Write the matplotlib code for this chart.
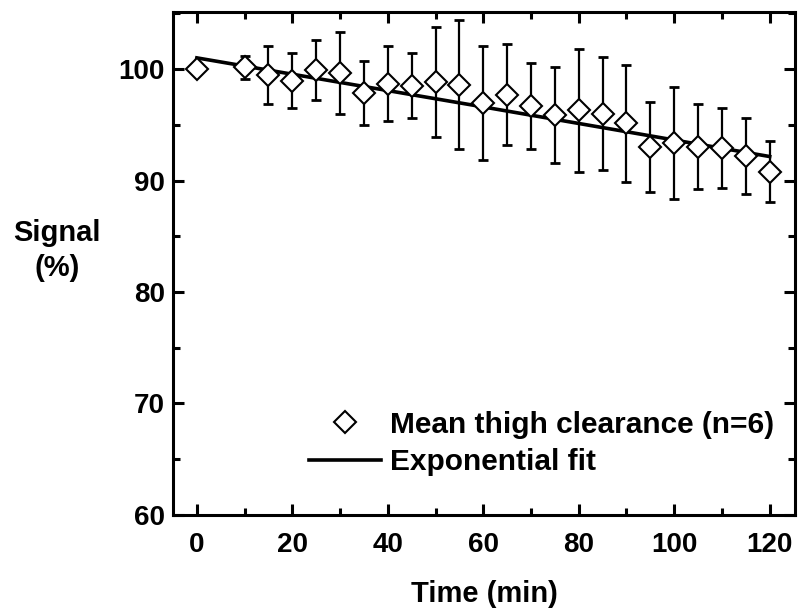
import matplotlib
matplotlib.use("Agg")
import matplotlib.pyplot as plt
from matplotlib.lines import Line2D
from matplotlib.ticker import MultipleLocator

plt.rcParams['font.family'] = ['Liberation Sans', 'DejaVu Sans']
plt.rcParams['font.weight'] = 'bold'

time_min = [0, 10, 15, 20, 25, 30, 35, 40, 45, 50, 55, 60, 65, 70, 75, 80, 85, 90, 95, 100, 105, 110, 115, 120]
signal_mean = [100.0, 100.15, 99.5, 98.95, 99.9, 99.65, 97.85, 98.7, 98.5, 98.85, 98.6, 96.95,
               97.7, 96.65, 95.9, 96.3, 96.0, 95.15, 93.0, 93.35, 93.05, 92.9, 92.2, 90.8]
signal_err = [0.0, 1.05, 2.6, 2.45, 2.7, 3.65, 2.85, 3.4, 2.9, 4.95, 5.8, 5.1,
              4.5, 3.85, 4.3, 5.5, 5.1, 5.25, 4.0, 5.05, 3.85, 3.6, 3.4, 2.7]
fit_time = [0, 60, 120]
fit_values = [101.0, 96.6, 92.15]

fig = plt.figure(figsize=(7.99, 6.08), dpi=100)
ax = fig.add_axes([0.2165, 0.153, 0.7785, 0.827])

ax.errorbar(time_min, signal_mean, yerr=signal_err, fmt='none', ecolor='black',
            elinewidth=1.6, capsize=3.6, capthick=2, zorder=2)
ax.plot(fit_time, fit_values, color='black', lw=2.6, zorder=3)
ax.plot(time_min, signal_mean, linestyle='none', marker='D', markersize=11.5,
        markerfacecolor='white', markeredgecolor='black', markeredgewidth=1.5, zorder=4)

ax.set_xlim(-5, 125.3)
ax.set_ylim(60, 105.1)
ax.xaxis.set_major_locator(MultipleLocator(20))
ax.xaxis.set_minor_locator(MultipleLocator(10))
ax.yaxis.set_major_locator(MultipleLocator(10))
ax.yaxis.set_minor_locator(MultipleLocator(5))
ax.tick_params(which='both', direction='in', top=True, right=True, width=2.2)
ax.tick_params(which='major', length=8, labelsize=20)
ax.tick_params(axis='x', which='major', pad=12)
ax.tick_params(axis='y', which='major', pad=6)
ax.tick_params(which='minor', length=5)
for s in ax.spines.values():
    s.set_linewidth(2.2)
for lab in ax.get_xticklabels() + ax.get_yticklabels():
    lab.set_fontweight('bold')

ax.set_xlabel('Time (min)', fontsize=21, fontweight='bold', labelpad=16)
fig.text(0.071, 0.588, 'Signal\n(%)', ha='center', va='center', fontsize=21,
         fontweight='bold', linespacing=1.3)

handles = [Line2D([], [], linestyle='none', marker='D', markersize=11.5,
                  markerfacecolor='white', markeredgecolor='black', markeredgewidth=1.5),
           Line2D([], [], color='black', lw=2.6)]
ax.legend(handles, ['Mean thigh clearance (n=6)', 'Exponential fit'], loc='lower right',
          bbox_to_anchor=(0.99, 0.047), frameon=False, fontsize=21.5, handlelength=2.4,
          handletextpad=0.3, labelspacing=0.32, borderpad=0)

fig.savefig('out.png', dpi=100)
